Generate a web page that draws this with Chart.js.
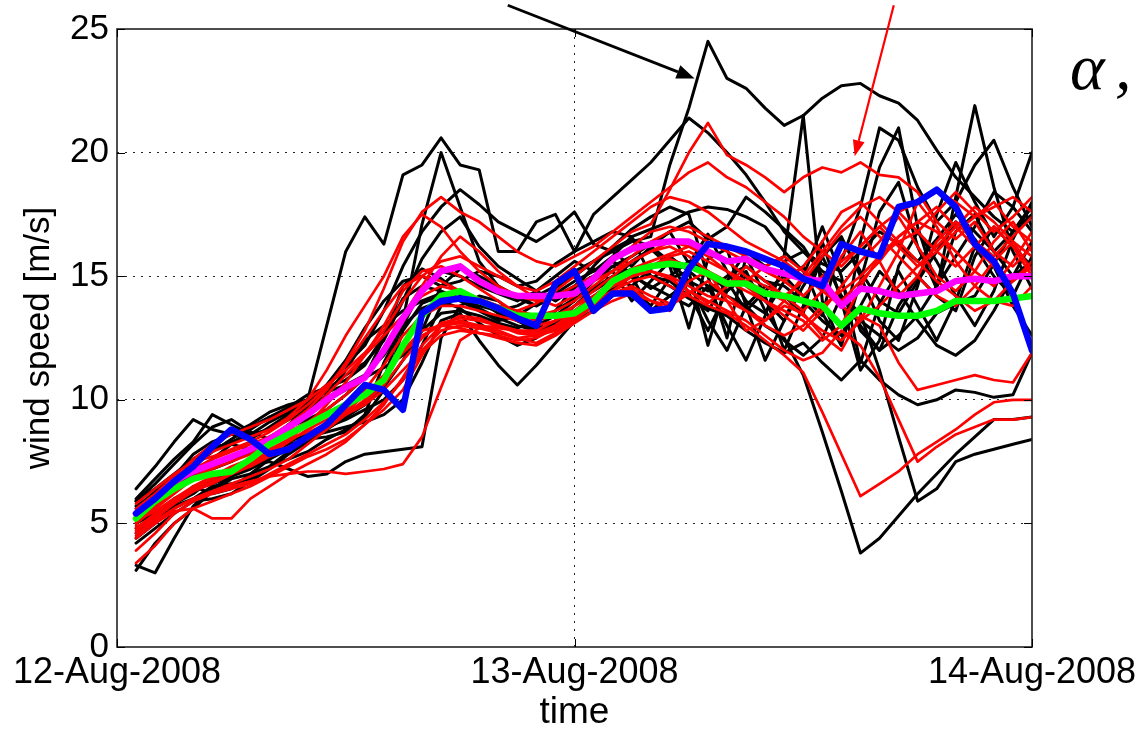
<!DOCTYPE html>
<html>
<head>
<meta charset="utf-8">
<script src="https://cdn.jsdelivr.net/npm/chart.js@4.4.1/dist/chart.umd.min.js"></script>
<style>
  html, body { margin: 0; padding: 0; background: #fff; }
  #wrap { width: 1142px; height: 729px; position: relative; }
</style>
</head>
<body>
<div id="wrap"><canvas id="c" width="1142" height="729"></canvas></div>
<script>
// ---------------- data (hours after 12-Aug-2008 00:00) ----------------
const hours = [1,2,3,4,5,6,7,8,9,10,11,12,13,14,15,16,17,18,19,20,21,22,23,24,25,26,27,28,29,30,31,32,33,34,35,36,37,38,39,40,41,42,43,44,45,46,47,48];
const tickHours = [0, 24, 48];
const tickLabels = ['12-Aug-2008', '13-Aug-2008', '14-Aug-2008'];
const yTicks = [0, 5, 10, 15, 20, 25];

// observed wind speed (blue)
const observed = [5.4,6.0,6.7,7.3,8.1,8.8,8.4,7.8,8.0,8.5, 9.0,9.8,10.6,10.4,9.6,13.5,14.0,14.1,14.0,13.7, 13.3,13.0,14.7,15.2,13.6,14.3,14.3,13.6,13.7,15.3, 16.3,16.2,16.0,15.7,15.4,14.9,14.6,16.3,16.0,15.8, 17.8,18.0,18.5,17.8,16.3,15.6,14.3,12.0];
// magenta curve
const meanMagenta = [5.4,6.0,6.7,7.1,7.4,7.7,8.0,8.4,8.9,9.4, 10.0,10.5,10.9,12.0,13.3,14.4,15.2,15.4,14.8,14.4, 14.2,14.2,14.2,14.3,14.9,15.7,16.1,16.3,16.4,16.4, 16.0,15.6,15.7,15.3,15.1,14.9,14.8,13.8,14.5,14.4, 14.2,14.3,14.4,14.8,14.9,14.8,15.0,15.0];
// green curve
const meanGreen = [5.2,5.9,6.4,6.8,7.0,7.1,7.6,8.2,8.6,9.0, 9.4,9.8,10.2,10.8,12.2,13.4,14.2,14.4,14.0,13.7, 13.4,13.4,13.4,13.5,14.0,14.8,15.2,15.4,15.5,15.4, 15.1,14.7,14.7,14.3,14.2,14.0,13.8,13.0,13.7,13.5, 13.4,13.4,13.6,14.0,14.0,14.0,14.1,14.2];

// black ensemble members
const blackMembers = [
  [6.4,7.3,8.3,9.2,8.8,8.6,9.0,9.5,9.8,10.0, 13.0,16.0,17.4,16.3,19.1,19.5,20.6,19.5,19.3,16.0, 16.0,17.2,17.5,16.0,17.5,18.2,18.9,19.6,20.5,21.4, 20.8,20.0,19.1,18.0,16.8,16.0,15.5,15.2,16.0,16.8, 16.3,15.6,16.5,17.5,16.8,16.0,16.8,17.5],
  [5.6,6.3,6.9,7.8,8.3,8.6,8.4,8.9,9.4,9.8, 10.6,11.4,12.2,13.6,15.4,16.8,17.8,18.5,17.9,17.2, 16.8,16.4,16.9,17.6,16.3,16.0,16.4,16.6,19.5,21.8, 24.5,23.0,22.6,21.8,21.1,21.5,22.2,22.7,22.8,22.3, 22.0,21.3,20.1,19.0,18.2,17.4,16.8,17.9],
  [4.6,5.4,6.0,6.4,6.6,6.9,7.5,8.0,8.3,8.6, 9.0,9.4,9.8,10.8,13.2,17.1,20.0,17.8,15.6,14.6, 14.2,13.8,14.5,15.2,15.6,16.0,15.4,16.2,16.8,15.5, 16.7,15.2,14.0,13.5,14.8,15.4,13.5,12.2,14.8,17.6, 18.8,16.2,14.5,18.2,21.9,18.6,16.0,14.5],
  [5.2,5.8,6.5,7.0,7.2,7.5,7.9,8.5,8.9,9.2, 9.6,10.2,10.9,12.5,14.6,15.3,14.9,14.3,14.0,13.6, 13.2,12.8,13.1,13.8,14.5,15.0,14.6,15.3,15.8,15.2, 14.6,14.2,13.8,13.0,12.5,11.0,8.7,6.3,3.8,4.4, 5.3,6.2,7.0,7.8,8.5,9.2,9.2,9.3],
  [3.1,4.2,5.0,5.6,6.3,6.8,7.0,7.3,7.6,7.9, 8.4,8.8,9.3,10.4,12.8,13.9,14.2,14.0,13.6,13.2, 13.4,13.9,14.3,14.8,15.2,15.6,15.1,14.5,15.0,15.6, 15.2,14.4,15.0,14.0,13.2,14.6,15.8,14.2,13.5,11.2, 8.5,5.9,6.4,7.5,7.8,8.0,8.2,8.4],
  [3.3,3.0,4.4,5.7,6.4,6.9,7.2,7.6,8.0,8.5, 8.7,8.9,9.1,9.4,10.0,11.5,13.2,13.5,12.4,11.4, 10.6,11.4,12.3,13.2,13.6,14.2,14.5,13.8,14.9,15.2, 12.2,14.8,13.6,14.4,15.0,14.2,13.4,16.5,15.2,14.0, 13.5,14.8,16.0,17.2,16.5,15.4,13.8,12.6],
  [5.0,5.4,5.8,6.2,6.8,7.0,7.3,7.5,7.2,6.9, 7.0,7.5,7.8,7.9,8.0,8.1,12.5,13.8,14.2,14.0, 13.4,13.0,13.4,14.0,14.8,15.4,15.8,16.3,16.8,17.2, 16.5,17.0,18.2,17.6,16.9,16.2,15.0,15.6,17.8,21.0, 20.5,18.6,17.2,18.0,19.5,20.5,18.6,17.0],
  [5.4,6.0,6.6,7.1,7.6,8.2,8.8,9.3,9.6,10.0, 10.3,10.6,11.0,11.8,13.0,14.5,15.2,15.0,14.6,14.3, 14.0,14.4,15.0,15.6,15.2,15.8,16.6,15.0,14.8,14.2, 13.6,14.8,16.0,15.4,15.8,21.5,14.0,12.2,16.4,19.4, 21.0,17.0,14.6,16.8,17.5,16.0,15.0,15.6],
  [5.9,6.6,7.4,8.2,8.9,9.2,8.7,8.4,9.0,9.7, 10.4,11.0,11.5,12.4,14.0,15.7,16.8,17.4,16.2,15.4, 14.9,14.4,14.0,14.5,15.4,16.2,16.9,17.4,17.8,17.5, 15.0,12.5,15.8,14.2,12.0,13.8,15.8,16.6,15.0,13.2, 12.4,14.6,17.5,19.6,18.0,16.6,17.8,20.0],
  [4.4,5.0,5.8,6.5,6.2,6.4,7.0,7.6,8.2,8.4, 8.5,8.7,9.4,11.5,13.0,13.7,14.0,13.7,13.1,12.6, 12.2,12.5,13.2,14.2,14.9,15.2,14.0,14.8,15.6,14.3, 12.8,14.4,15.2,13.6,12.4,11.8,12.5,14.2,13.0,12.0, 13.8,15.0,14.2,13.6,15.8,17.0,16.2,15.4],
  [5.7,6.2,6.8,7.3,7.9,8.4,8.9,9.3,9.7,10.2, 10.5,10.8,11.4,12.6,14.1,14.6,14.4,14.1,13.7,13.3, 13.0,12.8,13.6,14.6,15.3,14.8,15.6,16.1,15.4,12.9, 15.7,16.1,13.8,11.6,13.2,15.0,17.0,15.0,11.5,13.9, 15.2,13.8,12.4,14.0,16.2,15.0,14.2,15.8],
  [5.3,5.9,6.7,7.5,8.0,8.3,8.6,9.1,9.5,9.9, 10.6,11.6,12.9,14.0,14.8,15.0,14.6,14.8,15.2,15.0, 14.6,14.8,15.5,16.0,16.4,16.8,16.6,16.9,17.2,17.6, 17.8,17.7,17.4,17.0,16.0,15.2,14.6,13.8,13.2,12.6, 12.0,12.5,13.5,13.9,14.2,15.5,16.8,17.8],
  [4.8,5.3,5.7,6.0,6.5,6.6,6.8,7.3,7.9,8.4, 8.9,9.2,9.6,10.0,10.8,12.2,13.8,14.2,14.0,13.5, 13.2,13.0,12.8,13.4,14.0,14.5,15.0,13.6,14.2,14.8, 13.2,12.0,13.8,14.6,14.2,13.5,16.4,14.0,11.2,12.4, 15.4,16.8,15.6,14.2,13.0,14.4,16.5,18.0],
  [5.9,6.4,7.0,7.6,8.1,8.2,8.0,8.3,8.8,9.4, 10.0,10.4,10.9,11.3,11.8,12.8,14.6,15.3,15.0,14.6, 14.1,13.8,14.2,14.6,15.0,15.4,15.0,14.6,14.2,13.8, 14.6,13.0,11.6,13.4,15.6,16.0,15.2,14.8,12.8,12.0, 12.6,13.4,14.6,15.8,17.0,18.4,17.8,16.8],
  [6.0,6.8,7.6,8.3,9.4,9.0,8.6,8.8,9.2,9.6, 10.2,11.2,12.4,13.0,13.6,14.0,14.3,14.0,13.8,13.6, 13.8,14.2,14.6,15.0,15.6,16.1,16.5,16.2,15.6,14.8, 14.4,15.0,15.4,14.8,14.6,14.0,13.2,12.6,13.8,15.2, 14.4,13.2,12.2,11.8,12.4,13.6,15.0,16.4],
  [4.2,4.8,5.4,5.9,6.0,6.2,6.7,7.2,7.8,8.3, 8.8,9.3,9.8,10.5,11.6,12.8,13.5,13.6,13.4,13.1, 12.9,13.2,13.6,14.1,14.4,14.9,15.3,15.0,14.6,14.1, 13.7,13.4,12.8,12.3,11.9,12.3,11.5,10.8,11.6,10.8, 10.2,9.8,10.0,10.4,10.3,10.1,10.2,11.9]
];

// red ensemble members
const redMembers = [
  [5.0,5.6,6.2,6.8,7.3,7.7,8.0,8.3,8.8,9.4, 10.2,11.0,11.8,12.6,13.4,14.2,14.6,14.4,14.0,13.8, 13.6,13.9,14.4,15.0,15.6,16.2,16.8,17.1,18.5,20.0, 21.2,19.9,19.5,19.0,18.4,19.0,19.4,19.2,19.6,19.1, 19.0,18.4,17.2,16.5,17.2,16.0,15.4,16.2],
  [4.7,5.3,5.9,6.3,6.6,7.0,7.4,7.8,8.3,8.8, 9.2,9.5,9.9,10.6,11.6,12.5,13.1,13.3,13.2,13.0, 12.8,12.7,13.0,13.5,14.0,14.4,14.8,15.0,14.6,14.2, 13.8,13.5,13.0,12.4,11.8,11.1,9.5,7.8,6.1,6.6, 7.1,7.8,8.3,8.8,9.4,9.9,10.0,10.0],
  [4.4,5.0,5.6,6.0,6.3,6.6,6.9,7.2,7.6,8.2, 8.8,9.4,10.0,10.8,12.0,12.8,13.0,12.9,12.7,12.6, 12.4,12.5,12.9,13.4,13.9,14.3,14.6,14.2,13.9,14.4, 14.0,13.6,13.2,12.6,12.0,11.6,11.9,12.8,12.2,10.9, 9.2,7.5,8.1,8.6,8.9,9.2,9.2,9.3],
  [3.4,4.1,5.0,5.6,5.9,6.2,6.5,6.9,7.3,7.7, 8.0,8.4,9.0,9.8,10.9,12.2,13.0,13.2,13.0,12.8, 12.5,12.3,12.7,13.2,13.8,14.2,14.5,14.0,13.6,14.8, 15.2,14.0,12.8,13.2,13.8,13.5,12.6,12.0,13.4,13.0, 11.5,10.4,10.6,10.8,11.0,10.8,10.7,11.9],
  [4.9,5.0,5.5,5.6,5.2,5.2,6.0,6.5,7.0,7.4, 7.8,8.3,9.0,9.6,10.4,11.8,13.0,13.4,13.3,13.0, 12.7,12.6,13.0,13.6,14.2,14.6,15.0,15.2,14.9,14.4, 13.9,14.6,15.4,14.8,14.2,13.6,14.4,15.8,16.8,15.6, 14.2,15.0,16.4,17.2,16.4,15.8,16.6,17.4],
  [4.6,5.1,5.6,6.0,6.3,6.5,6.7,6.9,7.0,7.1, 7.1,7.0,7.1,7.2,7.4,8.5,10.5,12.4,12.9,13.0, 12.8,12.6,12.8,13.3,13.8,14.4,15.0,15.4,15.8,16.0, 15.6,15.2,14.6,14.0,13.6,13.2,12.4,13.0,14.6,15.8, 16.6,17.2,16.8,16.0,15.2,14.6,15.6,16.8],
  [5.2,5.8,6.5,7.2,7.6,7.9,8.2,8.5,9.0,9.6, 10.4,11.5,12.8,14.5,16.4,17.6,18.2,17.6,17.2,16.6, 16.0,15.6,15.4,15.8,16.2,16.8,17.4,18.0,18.6,19.2, 19.6,19.0,18.6,18.0,17.4,16.6,16.0,15.4,16.2,17.0, 17.6,18.0,18.4,18.0,17.4,17.8,18.2,17.6],
  [5.5,6.1,6.8,7.4,7.9,8.2,8.5,8.8,9.3,10.0, 11.2,12.6,13.8,15.0,16.6,17.5,17.0,16.0,15.2,14.6, 14.2,14.0,14.2,14.6,15.0,15.6,16.2,16.8,17.0,16.8, 16.4,16.0,15.6,15.2,14.8,15.4,16.4,17.6,18.0,17.2, 16.4,16.8,17.6,18.4,17.6,16.8,17.4,18.2],
  [5.3,5.9,6.4,6.9,7.2,7.5,7.8,8.2,8.7,9.1, 9.6,10.2,10.9,12.0,13.4,14.6,15.8,16.6,16.0,15.2, 14.6,14.1,13.8,14.2,14.8,15.2,15.6,16.0,16.2,15.8, 15.2,14.8,14.4,14.0,13.4,12.8,13.6,14.6,15.6,16.4, 17.4,16.2,15.0,14.4,15.2,16.4,17.2,16.0],
  [5.1,5.5,6.0,6.5,6.9,7.3,7.6,8.0,8.4,8.7, 9.0,9.4,9.8,10.4,11.2,12.0,12.8,13.0,12.9,12.7, 12.5,12.6,13.0,13.5,14.1,14.6,15.0,15.4,15.7,15.4, 15.0,14.6,14.8,15.4,15.8,15.2,14.6,14.0,14.8,15.6, 16.6,17.2,17.8,17.0,16.2,15.4,14.8,15.6],
  [4.8,5.4,6.0,6.4,6.8,7.2,7.5,7.8,8.1,8.5, 9.0,9.6,10.4,11.4,12.6,13.4,13.8,13.8,13.6,13.4, 13.2,13.0,13.2,13.6,14.2,14.8,15.3,15.6,15.9,16.2, 16.0,15.6,15.0,14.6,14.2,14.8,15.8,16.8,17.4,16.6, 15.8,15.0,14.2,13.8,14.6,15.6,16.4,15.2],
  [5.0,5.7,6.3,6.8,7.0,7.2,7.5,7.9,8.4,9.0, 9.8,10.7,11.8,13.0,14.4,15.2,15.4,15.0,14.5,14.0, 13.5,13.2,13.4,13.8,14.2,14.6,15.0,15.2,15.0,14.6, 14.2,14.0,13.6,13.2,14.0,15.0,16.0,17.0,17.8,18.2, 17.6,16.8,16.0,15.4,16.2,17.0,16.2,15.0],
  [4.5,5.2,5.8,6.3,6.7,7.0,7.3,7.7,8.0,8.4, 8.9,9.5,10.2,11.0,11.9,12.6,13.0,13.1,13.0,12.9, 12.8,12.8,13.2,13.8,14.4,15.0,15.6,16.0,16.4,16.2, 15.8,15.2,14.8,14.4,14.0,13.4,12.8,12.4,13.2,14.6, 16.0,18.0,17.0,15.6,14.6,14.0,13.8,14.6],
  [5.6,6.2,6.9,7.6,8.2,8.6,8.9,9.2,9.6,10.0, 10.6,11.2,11.9,12.8,14.0,15.0,15.6,15.8,15.4,15.0, 14.6,14.4,14.8,15.4,16.0,16.6,17.2,17.8,18.2,18.0, 17.6,17.0,16.4,16.0,15.6,15.0,14.4,13.8,13.2,13.8, 14.6,15.4,16.2,17.0,17.8,17.2,16.4,15.8],
  [3.9,4.6,5.4,5.9,6.2,6.4,6.6,7.0,7.4,7.8, 8.2,8.6,9.2,9.9,10.8,11.9,12.6,12.8,12.7,12.5, 12.3,12.2,12.6,13.1,13.6,14.0,14.3,14.0,13.8,14.3, 14.8,14.2,13.6,13.0,12.6,13.0,13.8,14.4,15.0,15.8, 16.4,15.6,14.8,14.2,13.6,14.0,14.8,15.4],
  [5.8,6.4,7.0,7.5,7.7,8.0,8.3,8.7,9.2,9.8, 10.5,11.4,12.5,13.6,14.6,15.0,14.8,14.4,14.1,13.8, 13.6,13.4,13.6,14.0,14.6,15.2,15.8,16.4,16.8,17.0, 16.6,16.2,15.8,15.2,14.8,14.2,15.0,15.6,16.2,17.0, 16.2,15.4,16.0,16.8,17.4,18.0,17.0,16.4]
];

// ---------------- chart ----------------
const FONT = '"Liberation Sans", Arial, Helvetica, sans-serif';

function toPoints(vals) { return vals.map((v, i) => ({ x: hours[i], y: v })); }

const datasets = [];
datasets.push({ label: 'observed', data: toPoints(observed), borderColor: '#0000ff', borderWidth: 6.5, order: 1 });
datasets.push({ label: 'green', data: toPoints(meanGreen), borderColor: '#00ff00', borderWidth: 6.5, order: 2 });
datasets.push({ label: 'magenta', data: toPoints(meanMagenta), borderColor: '#ff00ff', borderWidth: 6.5, order: 3 });
redMembers.forEach((m, i) => datasets.push({ label: 'red ' + (i + 1), data: toPoints(m), borderColor: '#ff0000', borderWidth: 2.7, order: 4 }));
blackMembers.forEach((m, i) => datasets.push({ label: 'black ' + (i + 1), data: toPoints(m), borderColor: '#000000', borderWidth: 3, order: 5 }));
datasets.forEach(d => { d.pointRadius = 0; d.tension = 0; d.fill = false; d.borderJoinStyle = 'round'; d.borderCapStyle = 'round'; });

function drawArrow(ctx, x1, y1, x2, y2, color, width, headLen, headHalf) {
  const ang = Math.atan2(y2 - y1, x2 - x1);
  const bx = x2 - headLen * Math.cos(ang), by = y2 - headLen * Math.sin(ang);
  ctx.save();
  ctx.strokeStyle = color; ctx.fillStyle = color; ctx.lineWidth = width;
  ctx.beginPath(); ctx.moveTo(x1, y1); ctx.lineTo(bx, by); ctx.stroke();
  ctx.beginPath();
  ctx.moveTo(x2, y2);
  ctx.lineTo(bx + headHalf * Math.sin(ang), by - headHalf * Math.cos(ang));
  ctx.lineTo(bx - headHalf * Math.sin(ang), by + headHalf * Math.cos(ang));
  ctx.closePath(); ctx.fill();
  ctx.restore();
}

const decor = {
  id: 'decor',
  afterDatasetsDraw(chart) {
    const { ctx, chartArea: a, scales: { x, y } } = chart;
    ctx.save();
    // box
    ctx.strokeStyle = '#222'; ctx.lineWidth = 1.6;
    ctx.strokeRect(a.left, a.top, a.right - a.left, a.bottom - a.top);
    // inward tick marks
    ctx.strokeStyle = '#000'; ctx.lineWidth = 1;
    yTicks.forEach(v => {
      const py = Math.round(y.getPixelForValue(v)) + 0.5;
      ctx.beginPath(); ctx.moveTo(a.left, py); ctx.lineTo(a.left + 8, py);
      ctx.moveTo(a.right, py); ctx.lineTo(a.right - 8, py); ctx.stroke();
    });
    tickHours.forEach(v => {
      const px = Math.round(x.getPixelForValue(v)) + 0.5;
      ctx.beginPath(); ctx.moveTo(px, a.bottom); ctx.lineTo(px, a.bottom - 8);
      ctx.moveTo(px, a.top); ctx.lineTo(px, a.top + 8); ctx.stroke();
    });
    ctx.restore();
    // annotation arrows
    drawArrow(ctx, x.getPixelForValue(20.5), y.getPixelForValue(25.96), x.getPixelForValue(30.3), y.getPixelForValue(23.0), '#000', 2.8, 18, 7);
    drawArrow(ctx, x.getPixelForValue(40.75), y.getPixelForValue(25.96), x.getPixelForValue(38.7), y.getPixelForValue(19.85), '#ff0000', 2.2, 16, 6);
    // alpha
    ctx.save();
    ctx.fillStyle = '#000';
    ctx.font = 'italic 66px "Liberation Serif", "DejaVu Serif", serif';
    ctx.textBaseline = 'alphabetic';
    ctx.fillText('\u03b1', 1070, 89);
    ctx.fillText(',', 1115, 89);
    ctx.restore();
  }
};

new Chart(document.getElementById('c'), {
  type: 'line',
  data: { datasets },
  options: {
    responsive: false,
    animation: false,
    devicePixelRatio: 1,
    layout: { padding: { left: 0, right: 110, top: 24, bottom: 0 } },
    plugins: { legend: { display: false }, tooltip: { enabled: false }, title: { display: false } },
    scales: {
      x: {
        type: 'linear', min: 0, max: 48,
        afterBuildTicks: s => { s.ticks = tickHours.map(v => ({ value: v })); },
        afterFit: s => { s.height = 82; },
        ticks: {
          autoSkip: false, maxRotation: 0, minRotation: 0, padding: 4, color: '#000',
          font: { family: FONT, size: 36 },
          callback: v => tickLabels[tickHours.indexOf(v)]
        },
        grid: {
          drawTicks: false, lineWidth: 1,
          color: c => (c.tick && (c.tick.value === 0 || c.tick.value === 48)) ? 'rgba(0,0,0,0)' : '#222'
        },
        border: { display: false, dash: [2, 6] },
        title: { display: true, text: 'time', color: '#000', font: { family: FONT, size: 37, lineHeight: 0.9 }, padding: 0 }
      },
      y: {
        type: 'linear', min: 0, max: 25,
        afterBuildTicks: s => { s.ticks = yTicks.map(v => ({ value: v })); },
        afterFit: s => { s.width = 117; },
        ticks: { padding: 8, color: '#000', font: { family: FONT, size: 35 } },
        grid: {
          drawTicks: false, lineWidth: 1,
          color: c => (c.tick && (c.tick.value === 0 || c.tick.value === 25)) ? 'rgba(0,0,0,0)' : '#222'
        },
        border: { display: false, dash: [2, 6] },
        title: { display: true, text: 'wind speed [m/s]', color: '#000', font: { family: FONT, size: 35, lineHeight: 1.0 }, padding: { top: 22, bottom: 0 } }
      }
    }
  },
  plugins: [decor]
});
</script>
</body>
</html>
